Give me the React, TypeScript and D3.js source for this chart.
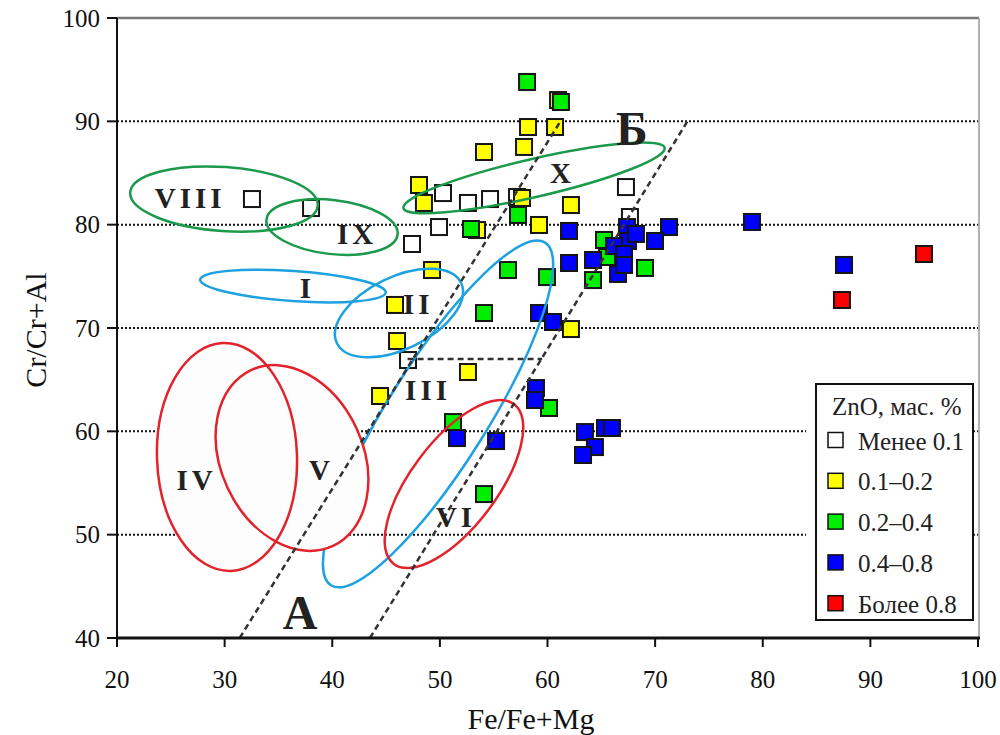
import React from "react";
import * as d3 from "d3";

// ---------- data ----------
const xTicks = [20, 30, 40, 50, 60, 70, 80, 90, 100];
const yTicks = [40, 50, 60, 70, 80, 90, 100];
const gridY = [50, 60, 70, 80, 90];

// ZnO < 0.1
const znLess01: [number, number][] = [
  [32.54, 82.48], [38.03, 81.61], [47.41, 78.13], [50.29, 83.06], [49.92, 79.77],
  [52.61, 82.1], [54.66, 82.48], [57.17, 82.68], [67.29, 83.64], [67.66, 80.74],
  [47.04, 66.9],
];
// ZnO 0.1–0.2
const zn01to02: [number, number][] = [
  [48.06, 83.84], [48.52, 82.1], [49.27, 75.61], [45.83, 72.23], [46.02, 68.74],
  [44.44, 63.42], [52.61, 65.74], [54.1, 87.03], [57.82, 87.52], [58.19, 89.45],
  [60.7, 89.45], [60.98, 92.06], [57.63, 82.58], [59.21, 79.97], [62.18, 81.9],
  [62.18, 69.9], [53.45, 79.48],
];
// ZnO 0.2–0.4
const zn02to04: [number, number][] = [
  [58.1, 93.81], [61.25, 91.87], [57.26, 80.94], [52.89, 79.58], [56.33, 75.61],
  [59.95, 74.93], [54.1, 71.45], [51.22, 60.9], [60.14, 62.26], [54.1, 53.93],
  [65.25, 78.52], [65.53, 76.87], [64.23, 74.64], [69.06, 75.81],
];
// ZnO 0.4–0.8
const zn04to08: [number, number][] = [
  [79.0, 80.26], [87.55, 76.1], [71.29, 79.77], [69.99, 78.42], [62.0, 79.39],
  [62.0, 76.29], [64.23, 76.58], [66.55, 75.23], [67.39, 79.77], [67.48, 78.42],
  [68.22, 79.1], [66.18, 77.93], [67.11, 77.16], [67.11, 76.1], [59.21, 71.45],
  [60.51, 70.58], [58.93, 64.19], [58.84, 63.03], [51.59, 59.35], [55.22, 59.06],
  [63.48, 59.93], [65.34, 60.32], [65.99, 60.32], [64.41, 58.48], [63.3, 57.71],
];
// ZnO > 0.8
const znMore08: [number, number][] = [
  [94.98, 77.16], [87.36, 72.71],
];

const seriesNames = ["Менее 0.1", "0.1–0.2", "0.2–0.4", "0.4–0.8", "Более 0.8"];
const seriesColors = ["#ffffff", "#ffff00", "#00ee00", "#0000ff", "#ff0000"];
const seriesData = [znLess01, zn01to02, zn02to04, zn04to08, znMore08];

// field outlines: centre in data units
const fieldNames = ["III", "VIII", "IX", "X", "I", "II", "VI", "IV", "V"];
const fieldCenters: [number, number][] = [
  [49.83, 61.68], [29.94, 82.48], [39.98, 79.77], [58.75, 84.52], [36.35, 74.06],
  [46.2, 71.45], [51.31, 54.9], [30.22, 57.52], [36.26, 57.42],
];

const labelNames = ["VIII", "IX", "X", "I", "II", "III", "IV", "V", "VI"];
const labelPos: [number, number][] = [
  [26.8, 82.6], [42.3, 79.1], [61.4, 85.0], [37.7, 73.9], [48.0, 72.3],
  [48.9, 64.0], [27.4, 55.3], [39.0, 56.3], [51.5, 51.7],
];
const bigLabels = ["Б", "А"];
const bigLabelPos: [number, number][] = [[67.85, 89.3], [37.0, 42.5]];

const lineA: [number, number][] = [[31.4, 40], [61.2, 90]];
const lineB: [number, number][] = [[43.5, 40], [73.0, 90]];
const lineIII: [number, number][] = [[47.0, 67], [59.5, 67]];

// ---------- layout ----------
const W = 1000, H = 735;
const L = 117, R = 978, T = 18, B = 638;

const GREEN = "#1b9a4b";
const BLUE = "#1da1e0";
const RED = "#e3232c";
const fieldGeom: Record<string, { rx: number; ry: number; rot: number; color: string; fill?: string }> = {
  III: { rx: 202, ry: 50, rot: -58, color: BLUE },
  VIII: { rx: 94, ry: 32, rot: 4, color: GREEN },
  IX: { rx: 66, ry: 27, rot: 6.5, color: GREEN },
  X: { rx: 134, ry: 19, rot: -13, color: GREEN },
  I: { rx: 93, ry: 15, rot: 4, color: BLUE },
  II: { rx: 69, ry: 36, rot: -26, color: BLUE },
  VI: { rx: 100, ry: 43, rot: -53, color: RED },
  IV: { rx: 70, ry: 114, rot: -2, color: RED, fill: "#fdfdfd" },
  V: { rx: 97, ry: 71, rot: 65, color: RED, fill: "#fdfdfd" },
};

const FONT = "'Liberation Serif', 'Times New Roman', serif";

export default function App() {
  const x = d3.scaleLinear().domain([20, 100]).range([L, R]);
  const y = d3.scaleLinear().domain([40, 100]).range([B, T]);
  const line = d3.line<[number, number]>().x((d) => x(d[0])).y((d) => y(d[1]));
  const S = 16;

  const ellipse = (name: string, mode: "fill" | "stroke") => {
    const i = fieldNames.indexOf(name);
    const g = fieldGeom[name];
    const [cx, cy] = fieldCenters[i];
    const px = x(cx), py = y(cy);
    if (mode === "fill" && !g.fill) return null;
    return (
      <ellipse
        key={name + mode}
        cx={0}
        cy={0}
        rx={g.rx}
        ry={g.ry}
        transform={`translate(${px},${py}) rotate(${g.rot})`}
        fill={mode === "fill" ? g.fill : "none"}
        stroke={mode === "stroke" ? g.color : "none"}
        strokeWidth={2.5}
      />
    );
  };

  return (
    <svg width={W} height={H} style={{ position: "absolute", left: 0, top: 0, background: "#fff" }}>
      <rect x={0} y={0} width={W} height={H} fill="#fff" />
      {/* frame top/right */}
      <line x1={L} x2={R + 1} y1={T} y2={T} stroke="#7a7a7a" strokeWidth={2.5} />
      <line x1={R + 1} x2={R + 1} y1={T} y2={B} stroke="#9a9a9a" strokeWidth={1.5} />
      {/* grid */}
      {gridY.map((v) => (
        <line key={"g" + v} x1={L} x2={R} y1={y(v)} y2={y(v)} stroke="#111" strokeWidth={2} strokeDasharray="2 2" />
      ))}
      {/* markers */}
      {seriesData.map((arr, si) =>
        arr.map((d, i) => (
          <rect
            key={`m${si}-${i}`}
            x={x(d[0]) - S / 2}
            y={y(d[1]) - S / 2}
            width={S}
            height={S}
            fill={seriesColors[si]}
            stroke="#151515"
            strokeWidth={2}
          />
        ))
      )}
      {/* fields */}
      {ellipse("III", "stroke")}
      {["VIII", "IX", "X", "I", "II", "VI"].map((n) => ellipse(n, "stroke"))}
      {ellipse("IV", "fill")}
      {ellipse("V", "fill")}
      {ellipse("IV", "stroke")}
      {ellipse("V", "stroke")}
      {/* dashed lines */}
      {[lineA, lineB, lineIII].map((l, i) => (
        <path key={"dl" + i} d={line(l) || ""} stroke="#333" strokeWidth={2.5} strokeDasharray="6 4" fill="none" />
      ))}
      {/* field labels */}
      {labelNames.map((n, i) => (
        <text
          key={"lb" + n}
          x={x(labelPos[i][0])}
          y={y(labelPos[i][1])}
          textAnchor="middle"
          dominantBaseline="central"
          fontFamily={FONT}
          fontWeight="bold"
          fontSize={29}
          letterSpacing={4}
          fill="#222"
        >
          {n}
        </text>
      ))}
      {bigLabels.map((n, i) => (
        <text
          key={"bl" + n}
          x={x(bigLabelPos[i][0])}
          y={y(bigLabelPos[i][1])}
          textAnchor="middle"
          dominantBaseline="central"
          fontFamily={FONT}
          fontWeight="bold"
          fontSize={48}
          fill="#222"
        >
          {n}
        </text>
      ))}
      {/* axes */}
      <line x1={L} x2={L} y1={T} y2={B} stroke="#111" strokeWidth={2} />
      <line x1={L - 1} x2={R + 2} y1={B} y2={B} stroke="#111" strokeWidth={3} />
      {yTicks.map((v) => (
        <g key={"yt" + v}>
          <line x1={L - 10} x2={L} y1={y(v)} y2={y(v)} stroke="#111" strokeWidth={2} />
          <text x={L - 17} y={y(v)} textAnchor="end" dominantBaseline="central" fontFamily={FONT} fontSize={25} fill="#111">
            {v}
          </text>
        </g>
      ))}
      {xTicks.map((v) => (
        <g key={"xt" + v}>
          <line x1={x(v)} x2={x(v)} y1={B} y2={B + 9} stroke="#111" strokeWidth={2} />
          <text x={x(v)} y={B + 41} textAnchor="middle" dominantBaseline="central" fontFamily={FONT} fontSize={25} fill="#111">
            {v}
          </text>
        </g>
      ))}
      <text x={531} y={718} textAnchor="middle" dominantBaseline="central" fontFamily={FONT} fontSize={30} fill="#111">
        Fe/Fe+Mg
      </text>
      <text
        transform={`translate(35,${330}) rotate(-90)`}
        textAnchor="middle"
        dominantBaseline="central"
        fontFamily={FONT}
        fontSize={30}
        fill="#111"
      >
        Cr/Cr+Al
      </text>
      {/* legend */}
      <g>
        <rect x={806} y={384} width={167} height={236} fill="#fff" stroke="none" />
        <rect x={816} y={384} width={157} height={236} fill="#fff" stroke="#111" strokeWidth={2} />
        <text x={832} y={415} fontFamily={FONT} fontSize={25} fill="#222">
          ZnO, мас. %
        </text>
        {seriesNames.map((n, i) => {
          const cy = 440 + i * 40.8;
          return (
            <g key={"lg" + i}>
              <rect x={828} y={cy - 7.5} width={15} height={15} fill={seriesColors[i]} stroke="#111" strokeWidth={1.5} />
              <text x={858} y={cy + 1} dominantBaseline="central" fontFamily={FONT} fontSize={25} fill="#222">
                {n}
              </text>
            </g>
          );
        })}
      </g>
    </svg>
  );
}
